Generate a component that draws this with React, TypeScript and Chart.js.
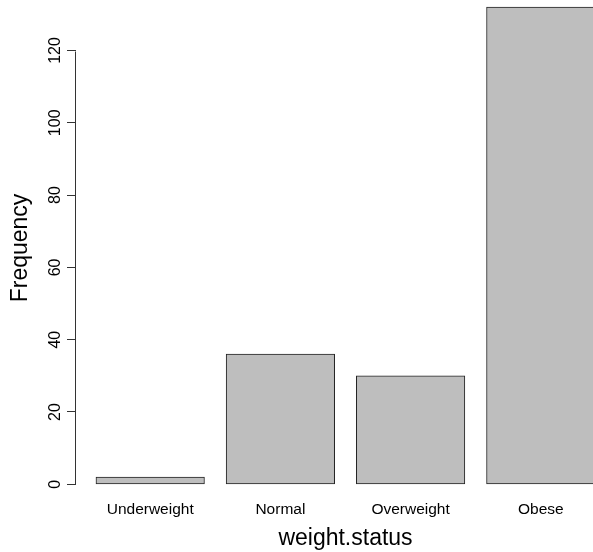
import React, { useEffect, useRef } from "react";
import { Chart, registerables } from "chart.js";

Chart.register(...registerables);

const categories = ["Underweight", "Normal", "Overweight", "Obese"];
const frequencies = [2, 36, 30, 132];
const barCenters = [0.7, 1.9, 3.1, 4.3];
const yTicks = [0, 20, 40, 60, 80, 100, 120];
const xLabel = "weight.status";
const yLabel = "Frequency";

const FONT = '"Liberation Sans", Helvetica, Arial, sans-serif';

export default function App() {
  const ref = useRef<HTMLCanvasElement>(null);

  useEffect(() => {
    const axisLine = {
      id: "rAxisLine",
      afterDraw(chart: any) {
        const s = chart.scales.y;
        const ctx = chart.ctx;
        const x = Math.round(chart.chartArea.left) - 0.5;
        ctx.save();
        ctx.strokeStyle = "#333";
        ctx.lineWidth = 1;
        ctx.beginPath();
        ctx.moveTo(x, Math.round(s.getPixelForValue(yTicks[0])) + 0.5);
        ctx.lineTo(x, Math.round(s.getPixelForValue(yTicks[yTicks.length - 1])) + 0.5);
        ctx.stroke();
        ctx.restore();
      },
    };

    const chart = new Chart(ref.current as HTMLCanvasElement, {
      type: "bar",
      data: {
        datasets: [
          {
            data: categories.map((c, i) => ({ x: barCenters[i], y: frequencies[i] })),
            backgroundColor: "#BEBEBE",
            borderColor: "#222",
            borderWidth: 1,
            borderSkipped: false,
            barThickness: 108.5,
          } as any,
        ],
      },
      options: {
        animation: false,
        responsive: false,
        devicePixelRatio: 1,
        layout: { padding: 0 },
        plugins: { legend: { display: false }, tooltip: { enabled: false } },
        scales: {
          x: {
            type: "linear",
            offset: false,
            min: 0.016,
            max: 4.984,
            grid: { display: false },
            border: { display: false },
            afterBuildTicks: (s: any) => {
              s.ticks = barCenters.map((v) => ({ value: v }));
            },
            ticks: {
              autoSkip: false,
              maxRotation: 0,
              minRotation: 0,
              padding: -4,
              color: "#000",
              font: { family: FONT, size: 15.5 },
              callback: (_v: any, i: number) => categories[i],
            },
            title: {
              display: true,
              text: xLabel,
              color: "#000",
              font: { family: FONT, size: 23 },
              padding: { top: 0, bottom: 0 },
            },
            afterFit: (s: any) => {
              s.height = 56;
              s.paddingLeft = 0;
              s.paddingRight = 0;
              s.paddingTop = 0;
              s.paddingBottom = 0;
            },
          },
          y: {
            type: "linear",
            min: -3.237,
            max: 133.97,
            border: { display: false },
            grid: { drawOnChartArea: false, drawTicks: true, tickLength: 9, color: "#333" },
            afterBuildTicks: (s: any) => {
              s.ticks = yTicks.map((v) => ({ value: v }));
            },
            ticks: {
              minRotation: 90,
              maxRotation: 90,
              crossAlign: "center",
              padding: -2,
              color: "#000",
              font: { family: FONT, size: 16 },
            },
            title: {
              display: true,
              text: yLabel,
              color: "#000",
              font: { family: FONT, size: 23 },
              padding: { top: 6.5, bottom: 0 },
            },
            afterFit: (s: any) => {
              s.width = 76;
              s.paddingLeft = 0;
              s.paddingRight = 0;
              s.paddingTop = 0;
              s.paddingBottom = 0;
            },
          },
        },
      } as any,
      plugins: [axisLine],
    });
    return () => chart.destroy();
  }, []);

  return (
    <div
      style={{
        position: "fixed",
        left: 0,
        top: 0,
        width: 593,
        height: 552,
        overflow: "hidden",
        background: "#fff",
      }}
    >
      <canvas ref={ref} width={615} height={552} style={{ display: "block", width: 615, height: 552 }} />
    </div>
  );
}
